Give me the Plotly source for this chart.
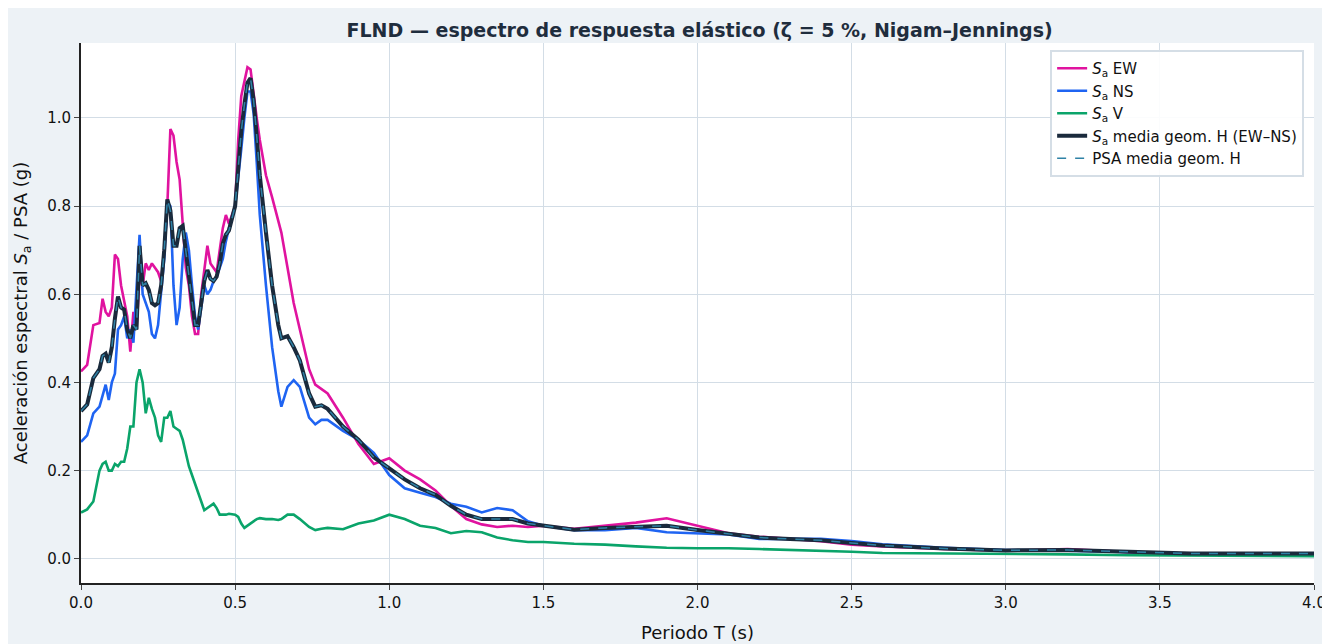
import plotly.graph_objects as go

# periodos (s)
periodos = [0, 0.02, 0.04, 0.06,
            0.07, 0.08, 0.09, 0.10, 0.11, 0.12, 0.13, 0.14, 0.15, 0.16,
            0.17, 0.18, 0.19, 0.20, 0.21, 0.22, 0.23, 0.24, 0.25, 0.26,
            0.27, 0.28, 0.29, 0.30, 0.31, 0.32, 0.33, 0.34, 0.35, 0.36,
            0.37, 0.38, 0.39, 0.40, 0.41, 0.42, 0.43, 0.44, 0.45, 0.46,
            0.47, 0.48,
            0.50, 0.51, 0.52, 0.53, 0.54, 0.55, 0.56, 0.57, 0.58,
            0.60, 0.62, 0.64, 0.65, 0.67, 0.69, 0.71, 0.74, 0.76, 0.78, 0.80,
            0.85, 0.90, 0.95,
            1.00, 1.05, 1.10, 1.15, 1.20, 1.25, 1.30, 1.35, 1.40, 1.45, 1.50,
            1.6, 1.7, 1.8, 1.9, 2.0, 2.1, 2.2, 2.3, 2.4, 2.5, 2.6,
            2.8, 3.0, 3.2, 3.4, 3.6, 3.8, 4.0]

sa_ew = [.425, .44, .53, .535,
         .59, .56, .55, .57, .69, .68, .62, .58, .55, .47,
         .56, .52, .64, .62, .67, .655, .67, .66, .65, .63,
         .70, .80, .975, .96, .90, .86, .75, .66, .62, .55,
         .51, .51, .60, .66, .71, .67, .66, .65, .70, .75,
         .78, .76,
         .80, .95, 1.05, 1.08, 1.115, 1.11, 1.05, 1.0, .95,
         .87, .82, .77, .74, .66, .58, .52, .43, .395, .385, .375,
         .32, .26, .215,
         .228, .20, .18, .155, .12, .09, .078, .072, .075, .072, .075,
         .068, .075, .082, .092, .075, .058, .05, .045, .04, .032, .028,
         .022, .018, .022, .015, .012, .012, .012]

sa_ns = [.265, .28, .33, .345,
         .37, .395, .36, .40, .42, .52, .53, .55, .50, .52,
         .49, .60, .735, .60, .58, .56, .51, .50, .53, .60,
         .68, .81, .80, .62, .53, .57, .68, .74, .70, .62,
         .55, .52, .57, .62, .60, .61, .63, .64, .66, .68,
         .72, .75,
         .80, .86, .93, 1.0, 1.06, 1.06, 1.01, .90, .78,
         .62, .48, .38, .345, .39, .405, .39, .32, .305, .315, .315,
         .29, .27, .24,
         .19, .16, .15, .14, .125, .118, .105, .115, .11, .085, .075,
         .065, .065, .07, .06, .058, .055, .045, .045, .045, .04, .033,
         .025, .02, .018, .015, .012, .012, .01]

sa_v = [.105, .112, .13, .20,
        .215, .22, .20, .20, .215, .21, .22, .22, .25, .30,
        .30, .40, .43, .40, .33, .365, .34, .32, .28, .265,
        .32, .32, .335, .30, .295, .29, .27, .24, .21, .19,
        .17, .155, .13, .11, .115, .12, .125, .115, .10, .10,
        .10, .102,
        .10, .095, .08, .07, .075, .08, .085, .09, .092,
        .09, .09, .088, .09, .10, .10, .09, .072, .065, .068, .07,
        .067, .08, .087,
        .10, .09, .075, .07, .058, .063, .06, .048, .042, .038, .038,
        .034, .032, .028, .025, .024, .024, .022, .02, .019, .016, .013,
        .012, .012, .01, .008, .007, .006, .006]

sa_gm = [.335, .35, .41, .43,
         .46, .465, .445, .48, .545, .595, .57, .565, .52, .50,
         .53, .52, .71, .62, .625, .61, .58, .575, .58, .62,
         .70, .815, .79, .71, .71, .75, .755, .70, .64, .58,
         .53, .53, .58, .63, .655, .635, .63, .64, .67, .715,
         .735, .745,
         .80, .89, .97, 1.03, 1.08, 1.09, 1.04, .96, .87,
         .74, .62, .53, .50, .505, .48, .45, .375, .345, .348, .34,
         .30, .27, .23,
         .205, .18, .16, .145, .12, .10, .09, .09, .09, .08, .075,
         .066, .07, .072, .075, .065, .056, .048, .045, .042, .036, .03,
         .023, .019, .02, .016, .012, .012, .012]

psa_gm = list(sa_gm)

series = [
    ("<i>S</i><sub>a</sub> EW", sa_ew, "#e0139f", 2.6, "solid"),
    ("<i>S</i><sub>a</sub> NS", sa_ns, "#1f64f2", 2.6, "solid"),
    ("<i>S</i><sub>a</sub> V", sa_v, "#0aa46a", 2.6, "solid"),
    ("<i>S</i><sub>a</sub> media geom. H (EW–NS)", sa_gm, "#1a2a3c", 4, "solid"),
    ("PSA media geom. H", psa_gm, "#2f82a6", 1.5, "dash"),
]

fig = go.Figure()
for name, vals, color, width, dash in series:
    fig.add_trace(go.Scatter(x=periodos, y=vals, mode="lines", name=name,
                             line=dict(color=color, width=width, dash=dash)))

fig.update_layout(
    width=1330, height=644,
    font=dict(family="DejaVu Sans", size=15, color="#111"),
    paper_bgcolor="#edf2f6", plot_bgcolor="white",
    title=dict(text="<b>FLND — espectro de respuesta elástico (ζ = 5 %, Nigam–Jennings)</b>",
               x=0.52, y=0.975, font=dict(size=19, color="#1f2d3d")),
    margin=dict(l=70, r=18, t=35, b=61),
    legend=dict(x=0.992, y=0.987, xanchor="right", yanchor="top",
                bgcolor="rgba(255,255,255,0.9)", bordercolor="#d5dee6", borderwidth=2,
                font=dict(size=15)),
)
fig.update_xaxes(title="Periodo T (s)", range=[0, 4], dtick=0.5, tickformat=".1f",
                 showline=True, linecolor="#222", linewidth=2, ticks="outside",
                 gridcolor="#d3dde6", zeroline=False)
fig.update_yaxes(title="Aceleración espectral <i>S</i><sub>a</sub> / PSA (g)",
                 range=[-0.055, 1.17], dtick=0.2, tickformat=".1f",
                 showline=True, linecolor="#222", linewidth=2, ticks="outside",
                 gridcolor="#d3dde6", zeroline=False)

fig.write_html("out.html")
